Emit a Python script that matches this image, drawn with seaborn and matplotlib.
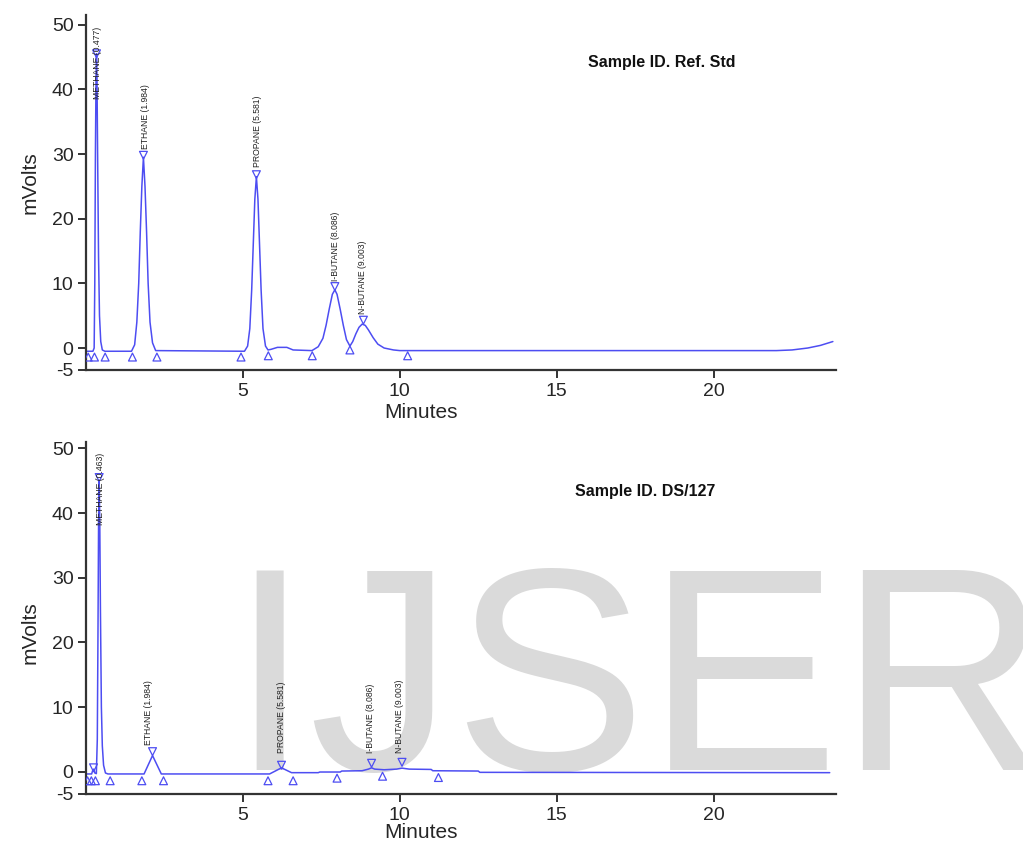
import matplotlib
matplotlib.use("Agg")
import matplotlib.pyplot as plt
import seaborn as sns
import pandas as pd

# ---------------- data ----------------
# Reference standard trace (minutes, mV)
ref_time = [0.0, 0.22, 0.26, 0.28, 0.30, 0.32, 0.335, 0.35, 0.37, 0.40, 0.43, 0.47, 0.52, 0.60,
            1.45, 1.55, 1.62, 1.68, 1.73, 1.78, 1.83, 1.88, 1.93, 1.98, 2.04, 2.12, 2.22,
            5.05, 5.15, 5.22, 5.28, 5.33, 5.38, 5.43, 5.48, 5.53, 5.58, 5.64, 5.72, 5.80,
            5.90, 6.10, 6.40, 6.60,
            7.20, 7.40, 7.55, 7.65, 7.75, 7.85, 7.93, 8.00, 8.10, 8.20, 8.30, 8.41,
            8.50, 8.60, 8.70, 8.80, 8.90, 9.00, 9.15, 9.30, 9.50, 9.80, 10.0,
            22.0, 22.5, 23.0, 23.4, 23.8]
ref_mv = [-0.5, -0.5, 0.0, 10, 30, 42, 45.5, 42, 30, 14, 5, 1, -0.3, -0.5,
          -0.5, 0.5, 4, 10, 18, 25, 29.5, 25, 18, 10, 4, 0.8, -0.4,
          -0.5, 0.3, 3, 9, 16, 23, 26.5, 23, 16, 9, 3, 0.3, -0.3,
          -0.2, 0.1, 0.1, -0.3,
          -0.4, 0.2, 1.5, 3.5, 6, 8.3, 9, 8.3, 6, 3.5, 1.3, 0.3,
          1.0, 2.2, 3.2, 3.7, 3.5, 2.8, 1.6, 0.6, 0.0, -0.3, -0.4,
          -0.4, -0.3, 0.0, 0.4, 1.0]

# Sample DS/127 trace (minutes, mV)
smp_time = [0.0, 0.18, 0.22, 0.25, 0.28, 0.33, 0.36, 0.38, 0.40, 0.42, 0.44, 0.46, 0.49, 0.52, 0.56,
            0.62, 0.70, 1.85, 2.12, 2.40, 5.85, 6.23, 6.55, 7.40, 7.45, 8.10, 8.15, 8.80, 9.00,
            9.10, 9.20, 9.50, 9.90, 10.07, 10.30, 11.0, 11.05, 12.5, 12.55, 23.7]
smp_mv = [-0.35, -0.35, 0.3, 0.4, -0.2, -0.3, 5, 20, 38, 45, 38, 25, 10, 4, 1,
          -0.2, -0.35, -0.35, 2.5, -0.35, -0.35, 0.6, -0.15, -0.15, -0.05, -0.05, 0.1, 0.15, 0.4,
          0.6, 0.4, 0.3, 0.4, 0.55, 0.4, 0.35, 0.15, 0.1, -0.1, -0.15]

# Peak apex markers and baseline (start/end) markers
ref_apex_t = [0.335, 1.83, 5.43, 7.93, 8.84]
ref_apex_v = [45.5, 29.8, 26.8, 9.5, 4.3]
ref_base_t = [0.07, 0.27, 0.61, 1.48, 2.26, 4.94, 5.81, 7.21, 8.41, 10.25]
ref_base_v = [-1.4, -1.4, -1.4, -1.4, -1.4, -1.4, -1.2, -1.2, -0.3, -1.2]

smp_apex_t = [0.24, 0.42, 2.12, 6.23, 9.10, 10.07]
smp_apex_v = [0.6, 45.5, 3.1, 1.0, 1.3, 1.45]
smp_base_t = [0.05, 0.17, 0.30, 0.77, 1.78, 2.47, 5.80, 6.60, 8.00, 9.45, 11.23]
smp_base_v = [-1.4, -1.4, -1.4, -1.4, -1.4, -1.4, -1.4, -1.4, -1.0, -0.7, -0.9]

# Peak labels
ref_labels = ["METHANE (0.477)", "ETHANE (1.984)", "PROPANE (5.581)", "I-BUTANE (8.086)", "N-BUTANE (9.003)"]
ref_label_t = [0.38, 1.90, 5.48, 7.96, 8.82]
ref_label_v = [38.5, 30.8, 28.0, 10.4, 5.3]

smp_labels = ["METHANE (0.463)", "ETHANE (1.984)", "PROPANE (5.581)", "I-BUTANE (8.086)", "N-BUTANE (9.003)"]
smp_label_t = [0.46, 2.00, 6.23, 9.07, 10.0]
smp_label_v = [38.2, 4.2, 2.9, 2.85, 2.85]

titles = ["Sample ID. Ref. Std", "Sample ID. DS/127"]
xticks = [5, 10, 15, 20]
yticks = [0, 10, 20, 30, 40, 50]

# ---------------- style ----------------
sns.set_style("ticks")
plt.rcParams["font.family"] = ["Liberation Sans", "DejaVu Sans"]
LINE = "#4d4df2"

fig = plt.figure(figsize=(10.23, 8.42), dpi=100)

# watermark (behind the plots)
fig.text(0.224, 0.0855, "IJSER", fontsize=208, color="#dadada",
         ha="left", va="baseline", zorder=-5)

W, H = 1023.0, 842.0
boxes = [(86, 15, 836, 370), (86, 442, 836, 794)]
ylims = [(-3.4, 51.5), (-3.45, 51.0)]
traces = [(ref_time, ref_mv), (smp_time, smp_mv)]
apexes = [(ref_apex_t, ref_apex_v), (smp_apex_t, smp_apex_v)]
bases = [(ref_base_t, ref_base_v), (smp_base_t, smp_base_v)]
labels = [(ref_labels, ref_label_t, ref_label_v), (smp_labels, smp_label_t, smp_label_v)]
title_pos = [(588, 62), (575, 492)]
ylabel_y = [183, 633]
xlabel_y = [412, 832]

for i in range(2):
    l, t, r, b = boxes[i]
    ax = fig.add_axes([l / W, 1 - b / H, (r - l) / W, (b - t) / H])
    ax.patch.set_alpha(0)

    tt, vv = traces[i]
    sns.lineplot(data=pd.DataFrame({"t": tt, "v": vv}), x="t", y="v", ax=ax,
                 color=LINE, linewidth=1.1, sort=False, estimator=None)
    at, av = apexes[i]
    sns.scatterplot(x=at, y=av, ax=ax, marker="v", s=32, facecolors="none",
                    edgecolors=LINE, linewidth=0.9, zorder=3)
    bt, bv = bases[i]
    sns.scatterplot(x=bt, y=bv, ax=ax, marker="^", s=32, facecolors="none",
                    edgecolors=LINE, linewidth=0.9, zorder=3)

    names, lt, lv = labels[i]
    for n, x, y in zip(names, lt, lv):
        ax.text(x, y, n, rotation=90, fontsize=6.2, color="#222222",
                ha="center", va="bottom")

    ax.set_xlim(0, 23.9)
    ax.set_ylim(*ylims[i])
    ax.set_xticks(xticks)
    ax.set_yticks([ylims[i][0]] + yticks)
    ax.set_yticklabels(["-5"] + [str(v) for v in yticks])
    ax.tick_params(axis="both", labelsize=14, length=6, width=1.4, direction="out",
                   color="#333333", pad=3)
    for s in ["left", "bottom"]:
        ax.spines[s].set_linewidth(1.6)
        ax.spines[s].set_color("#333333")
    sns.despine(ax=ax)

    ax.set_xlabel("Minutes", fontsize=15)
    ax.set_ylabel("mVolts", fontsize=15)
    ax.xaxis.set_label_coords((421 - l) / (r - l), -(xlabel_y[i] - b) / (b - t), transform=ax.transAxes)
    ax.yaxis.set_label_coords((30 - l) / (r - l), (b - ylabel_y[i]) / (b - t), transform=ax.transAxes)
    ax.xaxis.label.set_va("center")
    ax.yaxis.label.set_va("center")

    tx, ty = title_pos[i]
    fig.text(tx / W, 1 - ty / H, titles[i], fontsize=11.5, fontweight="bold",
             ha="left", va="center", color="#111111")

fig.savefig("out.png", dpi=100)
